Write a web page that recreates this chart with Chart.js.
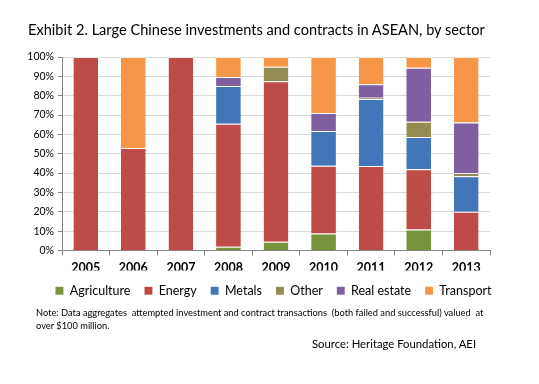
<!DOCTYPE html>
<html><head><meta charset="utf-8">
<script src="https://cdn.jsdelivr.net/npm/chart.js@4"></script>
<style>
html,body{margin:0;padding:0;background:#fff;}
#wrap{position:relative;width:539px;height:384px;font-family:Lato,"Open Sans",sans-serif;}
#c{position:absolute;left:0;top:0;}
.t{position:absolute;white-space:nowrap;color:#000;}
</style></head><body>
<div id="wrap">
<canvas id="c" width="539" height="384"></canvas>
<div class="t" id="title" style="left:28px;top:21px;font-size:14.6px;">Exhibit 2. Large Chinese investments and contracts in ASEAN, by sector</div>
<div class="t" id="note" style="left:36px;top:307px;font-size:9.3px;line-height:12.5px;">Note: Data aggregates&nbsp; attempted investment and contract transactions&nbsp; (both failed and successful) valued&nbsp; at<br>over $100 million.</div>
<div class="t" id="src" style="left:312px;top:337px;font-size:11.3px;">Source: Heritage Foundation, AEI</div>
</div>
<script>
const years = ["2005","2006","2007","2008","2009","2010","2011","2012","2013"];
const agriculture = [0, 0, 0, 2, 4.5, 8.8, 0, 10.8, 0];
const energy      = [100, 53, 100, 63.5, 83, 35, 43.7, 31.2, 20];
const metals      = [0, 0, 0, 19.5, 0, 18, 34.6, 16.7, 18.4];
const other       = [0, 0, 0, 0, 7.5, 0, 0.7, 7.9, 1.7];
const realEstate  = [0, 0, 0, 4.7, 0, 9.3, 6.9, 27.9, 26];
const transport   = [0, 47, 0, 10.3, 5, 28.9, 14.1, 5.5, 33.9];
const yTicks = ["0%","10%","20%","30%","40%","50%","60%","70%","80%","90%","100%"];

const mk = (label, data, color) => ({label, data, backgroundColor: color, borderColor: 'rgba(255,255,255,0.45)', borderWidth: {top:1, bottom:0, left:0, right:0}, borderSkipped: false, barPercentage: 0.52, categoryPercentage: 1});

new Chart(document.getElementById('c'), {
  type: 'bar',
  data: {
    labels: years,
    datasets: [
      mk('Agriculture', agriculture, '#77933C'),
      mk('Energy', energy, '#BE4B48'),
      mk('Metals', metals, '#4376B8'),
      mk('Other', other, '#948A54'),
      mk('Real estate', realEstate, '#7F5F9F'),
      mk('Transport', transport, '#F79646')
    ]
  },
  options: {
    responsive: false,
    animation: false,
    devicePixelRatio: 1,
    layout: {padding: {left: 8, right: 0, top: 57, bottom: 77}},
    plugins: {
      legend: {
        position: 'bottom',
        labels: {boxWidth: 8, boxHeight: 8, padding: 14, color: '#000', font: {family: 'Lato', size: 12.5}}
      },
      tooltip: {enabled: false}
    },
    scales: {
      x: {
        stacked: true,
        afterFit: s => { s.height = 20; },
        grid: {display: true, offset: true, drawOnChartArea: false, drawTicks: true, tickLength: 5, color: '#868686'},
        border: {color: '#868686'},
        ticks: {color: '#000', font: {family: 'Lato', size: 12.5, weight: 'bold'}, padding: 5}
      },
      y: {
        stacked: true,
        min: 0, max: 100,
        afterFit: s => { s.width = 54; },
        ticks: {stepSize: 10, color: '#000', font: {family: 'Lato', size: 10.5}, padding: 4,
          callback: (v, i) => yTicks[i]},
        grid: {color: '#D9D9D9', tickLength: 4, tickColor: '#868686'},
        border: {color: '#868686'}
      },
      yr: {
        position: 'right',
        min: 0, max: 100,
        afterFit: s => { s.width = 49; },
        ticks: {display: false},
        grid: {display: false},
        border: {display: false}
      }
    }
  }
});
</script>
</body></html>
